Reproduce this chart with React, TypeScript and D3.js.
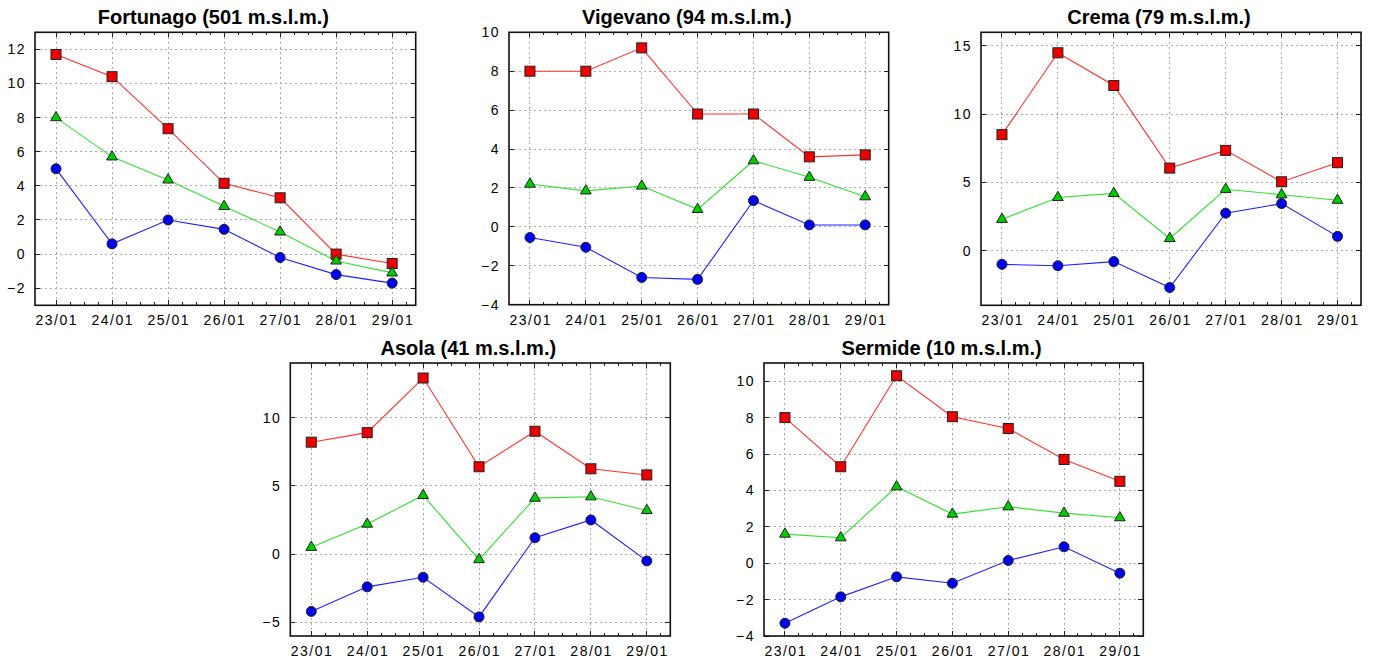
import React from "react";
import * as d3 from "d3";

const DATES = ["23/01", "24/01", "25/01", "26/01", "27/01", "28/01", "29/01"];

const STATIONS = ["Fortunago", "Vigevano", "Crema", "Asola", "Sermide"];
const TITLES = [
  "Fortunago (501 m.s.l.m.)",
  "Vigevano (94 m.s.l.m.)",
  "Crema (79 m.s.l.m.)",
  "Asola (41 m.s.l.m.)",
  "Sermide (10 m.s.l.m.)",
];

// Temperatures: max (red), mean (green), min (blue)
const FORTUNAGO_MAX = [11.7, 10.4, 7.35, 4.15, 3.3, 0.0, -0.55];
const FORTUNAGO_MEAN = [8.0, 5.7, 4.35, 2.8, 1.3, -0.4, -1.1];
const FORTUNAGO_MIN = [5.0, 0.6, 2.0, 1.45, -0.2, -1.2, -1.7];

const VIGEVANO_MAX = [8.0, 8.0, 9.2, 5.8, 5.8, 3.6, 3.7];
const VIGEVANO_MEAN = [2.2, 1.85, 2.1, 0.9, 3.4, 2.55, 1.55];
const VIGEVANO_MIN = [-0.55, -1.05, -2.6, -2.7, 1.35, 0.1, 0.1];

const CREMA_MAX = [8.5, 14.5, 12.1, 6.05, 7.35, 5.05, 6.45];
const CREMA_MEAN = [2.3, 3.9, 4.2, 0.9, 4.5, 4.1, 3.7];
const CREMA_MIN = [-1.0, -1.1, -0.8, -2.7, 2.75, 3.45, 1.05];

const ASOLA_MAX = [8.2, 8.9, 12.9, 6.4, 9.0, 6.25, 5.8];
const ASOLA_MEAN = [0.5, 2.2, 4.3, -0.4, 4.1, 4.2, 3.2];
const ASOLA_MIN = [-4.2, -2.4, -1.7, -4.6, 1.2, 2.5, -0.5];

const SERMIDE_MAX = [8.0, 5.3, 10.3, 8.05, 7.4, 5.7, 4.5];
const SERMIDE_MEAN = [1.6, 1.4, 4.2, 2.7, 3.1, 2.75, 2.5];
const SERMIDE_MIN = [-3.3, -1.85, -0.75, -1.1, 0.15, 0.9, -0.55];

const Y_DOMAINS: [number, number][] = [[-3, 13], [-4, 10], [-4, 16], [-6, 14], [-4, 11]];
const Y_TICKS = [
  [-2, 0, 2, 4, 6, 8, 10, 12],
  [-4, -2, 0, 2, 4, 6, 8, 10],
  [0, 5, 10, 15],
  [-5, 0, 5, 10],
  [-4, -2, 0, 2, 4, 6, 8, 10],
];

const SERIES = [
  [FORTUNAGO_MAX, FORTUNAGO_MEAN, FORTUNAGO_MIN],
  [VIGEVANO_MAX, VIGEVANO_MEAN, VIGEVANO_MIN],
  [CREMA_MAX, CREMA_MEAN, CREMA_MIN],
  [ASOLA_MAX, ASOLA_MEAN, ASOLA_MIN],
  [SERMIDE_MAX, SERMIDE_MEAN, SERMIDE_MIN],
];

// layout (plot frames)
const FRAMES = [
  { left: 35, right: 415.7, top: 32.3, bottom: 305.3 },
  { left: 509, right: 888.7, top: 32.3, bottom: 304.7 },
  { left: 981, right: 1361, top: 32.3, bottom: 305.3 },
  { left: 290.3, right: 670.3, top: 363, bottom: 636 },
  { left: 764, right: 1143.3, top: 363, bottom: 636 },
];

const LINE_COLORS = ["#ff3030", "#30e030", "#2020ff"];
const FILL_COLORS = ["#ee0000", "#00cc00", "#0000ee"];

const FONT = "'Liberation Sans', Arial, Helvetica, sans-serif";

function Panel({ idx }: { idx: number }) {
  const f = FRAMES[idx];
  const x = d3.scaleLinear().domain([-0.375, 6.42]).range([f.left, f.right]);
  const y = d3.scaleLinear().domain(Y_DOMAINS[idx]).range([f.bottom, f.top]);
  const line = d3
    .line<number>()
    .x((_, i) => x(i))
    .y((d) => y(d));
  const tri = d3.symbol(d3.symbolTriangle, 50)() as string;
  const minor = d3.range(1, 26).map((k) => k * 0.25).filter((v) => v % 1 !== 0);
  const series = SERIES[idx];
  const cx = (f.left + f.right) / 2 - 12;
  return (
    <g>
      <text
        x={cx}
        y={f.top - 8.5}
        textAnchor="middle"
        fontFamily={FONT}
        fontWeight="bold"
        fontSize={20}
        fill="#000"
      >
        {TITLES[idx]}
      </text>
      {/* grid */}
      <g stroke="#aaa" strokeWidth={1} strokeDasharray="2,3" shapeRendering="crispEdges">
        {DATES.map((_, i) => (
          <line key={"gx" + i} x1={x(i)} x2={x(i)} y1={f.top} y2={f.bottom} />
        ))}
        {Y_TICKS[idx].map((t) => (
          <line key={"gy" + t} x1={f.left} x2={f.right} y1={y(t)} y2={y(t)} />
        ))}
      </g>
      {/* ticks */}
      <g stroke="#222" strokeWidth={1} shapeRendering="crispEdges">
        {DATES.map((_, i) => (
          <g key={"tx" + i}>
            <line x1={x(i)} x2={x(i)} y1={f.bottom} y2={f.bottom - 5} />
            <line x1={x(i)} x2={x(i)} y1={f.top} y2={f.top + 5} />
          </g>
        ))}
        {minor.map((m) => (
          <g key={"mx" + m}>
            <line x1={x(m)} x2={x(m)} y1={f.bottom} y2={f.bottom - 3} />
            <line x1={x(m)} x2={x(m)} y1={f.top} y2={f.top + 3} />
          </g>
        ))}
        {Y_TICKS[idx].map((t) => (
          <g key={"ty" + t}>
            <line x1={f.left} x2={f.left + 5} y1={y(t)} y2={y(t)} />
            <line x1={f.right} x2={f.right - 5} y1={y(t)} y2={y(t)} />
          </g>
        ))}
      </g>
      {/* frame */}
      <rect
        x={f.left}
        y={f.top}
        width={f.right - f.left}
        height={f.bottom - f.top}
        fill="none"
        stroke="#111"
        strokeWidth={1.6}
      />
      {/* tick labels */}
      <g fontFamily={FONT} fontSize={14} fill="#000" letterSpacing={1.5}>
        {DATES.map((d, i) => (
          <text key={"lx" + i} x={x(i) + 0.75} y={f.bottom + 20} textAnchor="middle">
            {d}
          </text>
        ))}
        {Y_TICKS[idx].map((t) => (
          <text key={"ly" + t} x={f.left - 9} y={y(t) + 5} textAnchor="end">
            {t < 0 ? "\u2212" + Math.abs(t) : String(t)}
          </text>
        ))}
      </g>
      {/* lines */}
      {series.map((s, k) => (
        <path key={"l" + k} d={line(s) as string} fill="none" stroke={LINE_COLORS[k]} strokeWidth={1.1} />
      ))}
      {/* markers */}
      {series[0].map((v, i) => (
        <rect
          key={"sq" + i}
          x={x(i) - 5}
          y={y(v) - 5}
          width={10}
          height={10}
          fill={FILL_COLORS[0]}
          stroke="#222"
          strokeWidth={1}
        />
      ))}
      {series[1].map((v, i) => (
        <path
          key={"tr" + i}
          d={tri}
          transform={`translate(${x(i)},${y(v)})`}
          fill={FILL_COLORS[1]}
          stroke="#222"
          strokeWidth={1}
        />
      ))}
      {series[2].map((v, i) => (
        <circle key={"ci" + i} cx={x(i)} cy={y(v)} r={5} fill={FILL_COLORS[2]} stroke="#222" strokeWidth={1} />
      ))}
    </g>
  );
}

export default function App() {
  return (
    <svg
      width={1374}
      height={661}
      style={{ position: "absolute", left: 0, top: 0, background: "#fff" }}
    >
      <rect x={0} y={0} width={1374} height={661} fill="#fff" />
      {STATIONS.map((_, i) => (
        <Panel key={i} idx={i} />
      ))}
    </svg>
  );
}
